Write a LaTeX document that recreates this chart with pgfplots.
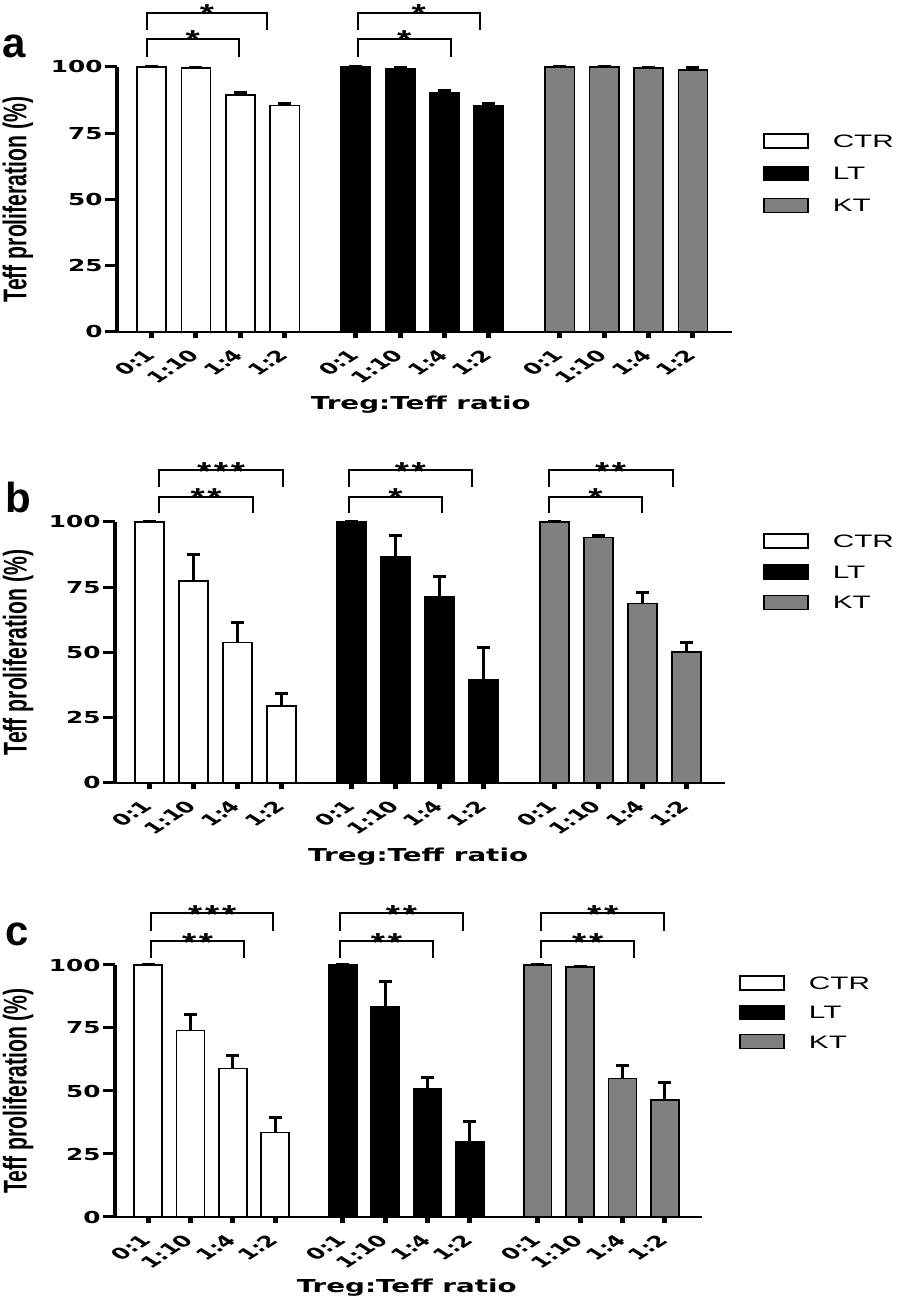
\documentclass[border=0pt]{standalone}
\usepackage{fontspec}
\setmainfont{Liberation Sans}
\newfontfamily\heavy{DejaVu Sans}
\usepackage{graphicx}
\usepackage{pgfplots}
\pgfplotsset{compat=1.18}

\newcommand\xl[1]{\scalebox{1.56}[1]{\rotatebox{45}{\heavy\fontsize{7.8}{7.8}\selectfont\bfseries #1}}}
\newcommand\yl[1]{\scalebox{1.5}[1]{\heavy\fontsize{8.25}{8.25}\selectfont\bfseries #1}}
\newcommand\st[1]{\scalebox{1.4}[1]{\fontsize{13}{13}\selectfont\bfseries #1}}
\newcommand\lgd[1]{\scalebox{1.65}[1]{#1}}
\newcommand\brk[5]{%
  \draw[line width=1pt] (axis cs:#1,#4) -- (axis cs:#1,#3) -- node[midway, anchor=base, inner sep=0pt, yshift=-5pt]{\st{#5}} (axis cs:#2,#3) -- (axis cs:#2,#4);}
\newcommand\ylab{\scalebox{1.55}[1]{\rotatebox{90}{\fontsize{10.6}{10.6}\selectfont\bfseries Teff proliferation (\%)}}}
\newcommand\xlab{\scalebox{1.56}[1]{\heavy\fontsize{8.9}{8.9}\selectfont\bfseries Treg:Teff ratio}}

\pgfplotsset{
  panel/.style={
    scale only axis, clip=false,
    xmin=-0.78, xmax=13.08, ymin=0, ymax=100,
    axis x line*=bottom, axis y line*=left,
    x axis line style={line width=1.4pt},
    y axis line style={line width=2.4pt},
    major tick length=6pt,
    ytick align=outside, xtick align=center,
    xtick={0,1,2,3,4.6,5.6,6.6,7.6,9.2,10.2,11.2,12.2},
    xticklabels={\xl{0:1},\xl{1:10},\xl{1:4},\xl{1:2},\xl{0:1},\xl{1:10},\xl{1:4},\xl{1:2},\xl{0:1},\xl{1:10},\xl{1:4},\xl{1:2}},
    ytick={0,25,50,75,100},
    yticklabels={\yl{0},\yl{25},\yl{50},\yl{75},\yl{100}},
    xtick style={line width=2.5pt, black},
    ytick style={line width=1.5pt, black},
    xticklabel style={anchor=north east, inner sep=0pt, xshift=2.5pt, yshift=-5pt},
    yticklabel style={anchor=east, inner sep=0pt, xshift=-1pt},
    legend image code/.code={\draw[#1, line width=0.8pt] (0pt,-0.3pt) rectangle (22pt,6.7pt);},
    legend style={draw=none, fill=none, inner sep=0pt, column sep=12pt,
      nodes={inner sep=0pt}, font=\fontsize{9}{9}\selectfont, cells={anchor=base west}},
  },
  mybar/.style={ybar, bar width=0.66, bar shift=0, draw=black, line width=0.8pt,
    error bars/y dir=plus, error bars/y explicit,
    error bars/error bar style={line width=1.5pt, black},
    error bars/error mark options={rotate=90, mark size=3.25pt, line width=1.5pt, black}},
}

\begin{document}
\begin{tikzpicture}
\path[use as bounding box] (0,0) rectangle (449pt,649.5pt);

% ---------------- panel a
\begin{axis}[panel, at={(58.5pt,483.5pt)}, anchor=south west, width=307.5pt, height=132.5pt,
  legend style={at={(axis description cs:1.050,0.751)}, anchor=north west, row sep=7.5pt}]
\addplot[fill=white, mybar] coordinates {(0,100) +- (0,0) (1,99.6) +- (0,0.2) (2,89.5) +- (0,0.7) (3,85.5) +- (0,0.6)};
\addplot[fill=black, mybar] coordinates {(4.6,100) +- (0,0) (5.6,99.5) +- (0,0.2) (6.6,90.4) +- (0,0.8) (7.6,85.4) +- (0,0.7)};
\addplot[fill=gray, mybar] coordinates {(9.2,100) +- (0,0) (10.2,100) +- (0,0) (11.2,99.6) +- (0,0.2) (12.2,98.9) +- (0,0.8)};
\legend{\lgd{CTR},\lgd{LT},\lgd{KT}}
\brk{-0.11}{1.96}{110.6}{103.8}{*}
\brk{-0.11}{2.61}{120.4}{114.0}{*}
\brk{4.65}{6.74}{110.6}{103.8}{*}
\brk{4.65}{7.39}{120.4}{114.0}{*}
\node[anchor=center] at (axis description cs:-0.161,0.5) {\ylab};
\node[anchor=base] at (axis description cs:0.494,-0.294) {\xlab};
\node[anchor=base west, inner sep=0pt] at (axis description cs:-0.187,1.034) {\fontsize{21}{21}\selectfont\bfseries a};
\end{axis}

% ---------------- panel b
\begin{axis}[panel, at={(57.5pt,258pt)}, anchor=south west, width=305pt, height=130.5pt,
  legend style={at={(axis description cs:1.062,0.958)}, anchor=north west, row sep=6.75pt}]
\addplot[fill=white, mybar] coordinates {(0,100) +- (0,0) (1,77.4) +- (0,10.2) (2,53.8) +- (0,7.6) (3,29.6) +- (0,4.5)};
\addplot[fill=black, mybar] coordinates {(4.6,100) +- (0,0) (5.6,86.5) +- (0,8.3) (6.6,71.4) +- (0,7.6) (7.6,39.5) +- (0,12.6)};
\addplot[fill=gray, mybar] coordinates {(9.2,100) +- (0,0) (10.2,94.0) +- (0,0.9) (11.2,68.8) +- (0,4.0) (12.2,50.3) +- (0,3.6)};
\legend{\lgd{CTR},\lgd{LT},\lgd{KT}}
\brk{0.23}{2.35}{109.7}{103.6}{*\kern1pt*}
\brk{0.23}{3.03}{119.9}{113.5}{*\kern1pt*\kern1pt*}
\brk{4.53}{6.65}{109.7}{103.6}{*}
\brk{4.53}{7.33}{119.9}{113.5}{*\kern1pt*}
\brk{9.07}{11.2}{109.7}{103.6}{*}
\brk{9.07}{11.89}{119.9}{113.5}{*\kern1pt*}
\node[anchor=center] at (axis description cs:-0.159,0.5) {\ylab};
\node[anchor=base] at (axis description cs:0.497,-0.299) {\xlab};
\node[anchor=base west, inner sep=0pt] at (axis description cs:-0.180,1.038) {\fontsize{21}{21}\selectfont\bfseries b};
\end{axis}

% ---------------- panel c
\begin{axis}[panel, at={(57.5pt,41pt)}, anchor=south west, width=293.5pt, height=126pt,
  legend style={at={(axis description cs:1.063,0.960)}, anchor=north west, row sep=6pt}]
\addplot[fill=white, mybar] coordinates {(0,100) +- (0,0) (1,74.0) +- (0,6.3) (2,59.0) +- (0,5.0) (3,33.6) +- (0,5.8)};
\addplot[fill=black, mybar] coordinates {(4.6,100) +- (0,0) (5.6,83.3) +- (0,10.2) (6.6,50.7) +- (0,4.5) (7.6,29.9) +- (0,8.0)};
\addplot[fill=gray, mybar] coordinates {(9.2,100) +- (0,0) (10.2,99.1) +- (0,0.5) (11.2,54.9) +- (0,5.3) (12.2,46.4) +- (0,6.8)};
\legend{\lgd{CTR},\lgd{LT},\lgd{KT}}
\brk{0.07}{2.27}{109.5}{102.7}{*\kern1pt*}
\brk{0.07}{2.96}{120.5}{113.6}{*\kern1pt*\kern1pt*}
\brk{4.53}{6.73}{109.5}{102.7}{*\kern1pt*}
\brk{4.53}{7.44}{120.5}{113.6}{*\kern1pt*}
\brk{9.29}{11.47}{109.5}{102.7}{*\kern1pt*}
\brk{9.29}{12.18}{120.5}{113.6}{*\kern1pt*}
\node[anchor=center] at (axis description cs:-0.165,0.5) {\ylab};
\node[anchor=base] at (axis description cs:0.497,-0.300) {\xlab};
\node[anchor=base west, inner sep=0pt] at (axis description cs:-0.187,1.079) {\fontsize{21}{21}\selectfont\bfseries c};
\end{axis}
\end{tikzpicture}
\end{document}
